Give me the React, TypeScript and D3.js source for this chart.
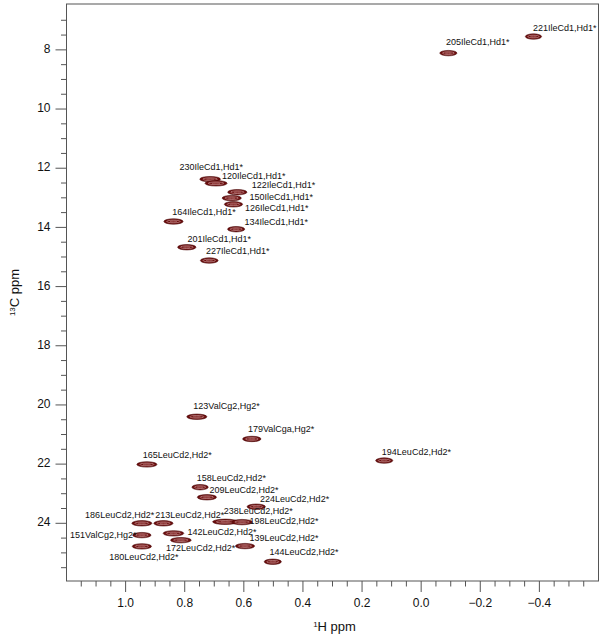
import React from "react";
import * as d3 from "d3";

// Peak assignments
const peakNames: string[] = [
  "221IleCd1,Hd1*", "205IleCd1,Hd1*",
  "230IleCd1,Hd1*", "120IleCd1,Hd1*", "122IleCd1,Hd1*", "150IleCd1,Hd1*", "126IleCd1,Hd1*",
  "164IleCd1,Hd1*", "134IleCd1,Hd1*", "201IleCd1,Hd1*", "227IleCd1,Hd1*",
  "123ValCg2,Hg2*", "179ValCga,Hg2*", "194LeuCd2,Hd2*", "165LeuCd2,Hd2*",
  "158LeuCd2,Hd2*", "209LeuCd2,Hd2*", "224LeuCd2,Hd2*", "238LeuCd2,Hd2*", "198LeuCd2,Hd2*",
  "186LeuCd2,Hd2*", "213LeuCd2,Hd2*", "151ValCg2,Hg2*", "142LeuCd2,Hd2*", "172LeuCd2,Hd2*",
  "180LeuCd2,Hd2*", "139LeuCd2,Hd2*", "144LeuCd2,Hd2*",
];
// 1H shift (ppm)
const peakH: number[] = [
  -0.380, -0.092,
  0.714, 0.694, 0.622, 0.641, 0.635,
  0.838, 0.626, 0.793, 0.717,
  0.759, 0.573, 0.125, 0.928,
  0.748, 0.725, 0.558, 0.663, 0.606,
  0.945, 0.872, 0.945, 0.838, 0.813,
  0.945, 0.596, 0.502,
];
// 13C shift (ppm)
const peakC: number[] = [
  7.55, 8.11,
  12.37, 12.51, 12.81, 13.01, 13.22,
  13.80, 14.06, 14.67, 15.12,
  20.40, 21.15, 21.88, 22.01,
  22.78, 23.12, 23.44, 23.95, 23.96,
  24.00, 24.00, 24.40, 24.34, 24.57,
  24.78, 24.77, 25.30,
];
// 1H line width (ppm)
const peakWidthH: number[] = [
  0.055, 0.058,
  0.07, 0.075, 0.065, 0.065, 0.062,
  0.065, 0.058, 0.062, 0.06,
  0.068, 0.062, 0.058, 0.068,
  0.055, 0.065, 0.062, 0.085, 0.07,
  0.068, 0.065, 0.062, 0.07, 0.07,
  0.065, 0.065, 0.058,
];
// Label anchor, 1H (ppm, text start)
const labelH: number[] = [
  -0.378, -0.084,
  0.818, 0.674, 0.573, 0.581, 0.596,
  0.842, 0.598, 0.791, 0.728,
  0.771, 0.586, 0.133, 0.942,
  0.759, 0.716, 0.545, 0.668, 0.581,
  1.137, 0.900, 1.188, 0.791, 0.863,
  1.055, 0.581, 0.513,
];
// Label anchor, 13C (ppm, text middle)
const labelC: number[] = [
  7.29, 7.77,
  11.97, 12.28, 12.60, 12.99, 13.35,
  13.49, 13.83, 14.42, 14.82,
  20.06, 20.85, 21.60, 21.72,
  22.49, 22.89, 23.19, 23.61, 23.95,
  23.74, 23.74, 24.40, 24.30, 24.87,
  25.15, 24.51, 24.99,
];

const xDomain: [number, number] = [1.2, -0.6];
const yDomain: [number, number] = [6.45, 25.95];
const xMajorTicks: number[] = [1.0, 0.8, 0.6, 0.4, 0.2, 0.0, -0.2, -0.4];
const yMajorTicks: number[] = [8, 10, 12, 14, 16, 18, 20, 22, 24];
const xMinorStep = 0.05;
const yMinorStep = 0.5;

const W = 603;
const H = 641;
const left = 66.5;
const right = 598.5;
const top = 4;
const bottom = 581;
const PEAK_RY = 2.7;
const FONT = "Arial, 'Liberation Sans', Helvetica, sans-serif";

export default function App() {
  const x = d3.scaleLinear().domain(xDomain).range([left, right]);
  const y = d3.scaleLinear().domain(yDomain).range([top, bottom]);

  const xMinor = d3.range(115, -56, -xMinorStep * 100).map((v) => v / 100);
  const yMinor = d3.range(14, 52, yMinorStep * 2).map((v) => v / 2);

  const axisColor = "#555";

  return (
    <svg
      width={W}
      height={H}
      style={{ position: "absolute", left: 0, top: 0, background: "#fff" }}
      fontFamily={FONT}
    >
      {/* frame */}
      <rect x={left} y={top} width={right - left} height={bottom - top} fill="none" stroke={axisColor} strokeWidth={1} />

      {/* x ticks */}
      {xMinor.map((v) => {
        const major = xMajorTicks.some((m) => Math.abs(m - v) < 1e-6);
        return (
          <line key={"xm" + v} x1={x(v)} x2={x(v)} y1={bottom} y2={bottom + (major ? 11 : 5.5)} stroke={axisColor} strokeWidth={1} />
        );
      })}
      {xMajorTicks.map((v) => (
        <text key={"xl" + v} x={x(v)} y={bottom + 23} fontSize={12} textAnchor="middle" dominantBaseline="middle" fill="#111">
          {d3.format(".1f")(v)}
        </text>
      ))}

      {/* y ticks */}
      {yMinor.map((v) => {
        const major = yMajorTicks.some((m) => Math.abs(m - v) < 1e-6);
        return (
          <line key={"ym" + v} x1={left - (major ? 11 : 5.5)} x2={left} y1={y(v)} y2={y(v)} stroke={axisColor} strokeWidth={1} />
        );
      })}
      {yMajorTicks.map((v) => (
        <text key={"yl" + v} x={left - 16} y={y(v)} fontSize={12} textAnchor="end" dominantBaseline="middle" fill="#111">
          {v}
        </text>
      ))}

      {/* axis titles */}
      <text x={(left + right) / 2 + 2} y={631} fontSize={13} textAnchor="middle" fill="#111">
        <tspan fontSize={8} dy={-4}>1</tspan>
        <tspan dy={4}>H ppm</tspan>
      </text>
      <text transform={`translate(19,${(top + bottom) / 2}) rotate(-90)`} fontSize={13} textAnchor="middle" fill="#111">
        <tspan fontSize={8} dy={-4}>13</tspan>
        <tspan dy={4}>C ppm</tspan>
      </text>

      {/* peaks */}
      {peakNames.map((name, i) => {
        const cx = x(peakH[i]);
        const cy = y(peakC[i]);
        const rx = Math.abs(x(0) - x(peakWidthH[i])) / 2;
        return (
          <g key={"p" + i}>
            <ellipse cx={cx} cy={cy} rx={rx} ry={PEAK_RY} fill="#6a0c0c" stroke="#4a0606" strokeWidth={0.6} />
            <ellipse cx={cx} cy={cy} rx={rx * 0.7} ry={PEAK_RY * 0.5} fill="none" stroke="#e9c4c4" strokeWidth={0.5} />
            <ellipse cx={cx} cy={cy} rx={rx * 0.35} ry={PEAK_RY * 0.2} fill="none" stroke="#d9a0a0" strokeWidth={0.4} />
          </g>
        );
      })}

      {/* labels */}
      {peakNames.map((name, i) => (
        <text key={"t" + i} x={x(labelH[i])} y={y(labelC[i])} fontSize={9} dominantBaseline="middle" fill="#111">
          {name}
        </text>
      ))}
    </svg>
  );
}
